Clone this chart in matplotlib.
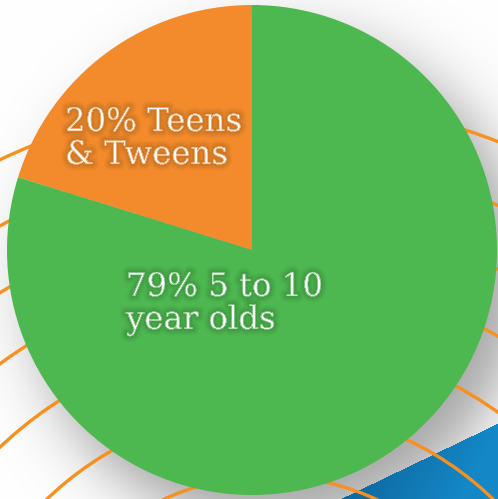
import numpy as np
import matplotlib
matplotlib.use("Agg")
import matplotlib.pyplot as plt
import matplotlib.patheffects as pe
from matplotlib.patches import Circle

# data
groups = ["Teens & Tweens", "5 to 10 year olds"]
shares = [20, 79]
labels = ["20% Teens\n& Tweens", "79% 5 to 10\nyear olds"]
colors = ["#F38B2C", "#4DB84F"]

W, H = 498, 499
fig = plt.figure(figsize=(W / 100, H / 100), dpi=100)
ax = fig.add_axes([0, 0, 1, 1])

# --- background: white, soft grey shadow lower right, blue band in the corner ---
yy, xx = np.mgrid[0:H, 0:W].astype(float)
img = np.ones((H, W, 3))
# pie drop shadow (image coords, y down)
d = np.hypot(xx - 272, yy - 276) - 248
shade = 0.36 / (1 + np.exp(d / 18))
shade *= np.clip(0.35 + (xx + yy) / 900, 0, 1)
img -= shade[..., None]
# blue band bottom right
edge = 423 + (498 - xx) * 0.48
blue = yy > edge
t = np.clip((xx - 340) / 160 + (yy - 420) / 300, 0, 1)[..., None]
dark = np.array([0x0B, 0x5C, 0x8F]) / 255
light = np.array([0x14, 0x87, 0xC6]) / 255
img[blue] = (dark * (1 - t) + light * t)[blue]
ax.imshow(img, extent=[0, W, 0, H], origin="upper", zorder=0, interpolation="bilinear")

# orange rings behind the pie
for r in [254, 321, 391, 455, 514, 572, 631]:
    ax.add_patch(Circle((270, H - 730), r, fill=False, ec="#F7901E", lw=2.4, zorder=1))

# --- pie ---
wedges, _ = ax.pie(shares, colors=colors, startangle=90, counterclock=True,
                   center=(252, H - 250), radius=245, frame=True,
                   wedgeprops=dict(linewidth=0))
for w in wedges:
    w.set_zorder(2)
ax.set_xlim(0, W)
ax.set_ylim(0, H)
ax.axis("off")


def glow(bg):
    # soft dark halo, then thin the glyphs a little with the wedge colour
    return [pe.withStroke(linewidth=9, foreground=(0, 0, 0, 0.035)),
            pe.withStroke(linewidth=6, foreground=(0, 0, 0, 0.05)),
            pe.withStroke(linewidth=3, foreground=(0, 0, 0, 0.06)),
            pe.Normal(),
            pe.Stroke(linewidth=0.5, foreground=bg)]


ax.text(65, H - 107, labels[0], color="white", fontsize=23.3, family="DejaVu Serif",
        ha="left", va="top", linespacing=1.08, zorder=5, path_effects=glow("#E6832A"))
ax.text(126, H - 272, labels[1], color="white", fontsize=23.3, family="DejaVu Serif",
        ha="left", va="top", linespacing=1.08, zorder=5, path_effects=glow("#49AE4B"))

fig.savefig("out.png", dpi=100)
